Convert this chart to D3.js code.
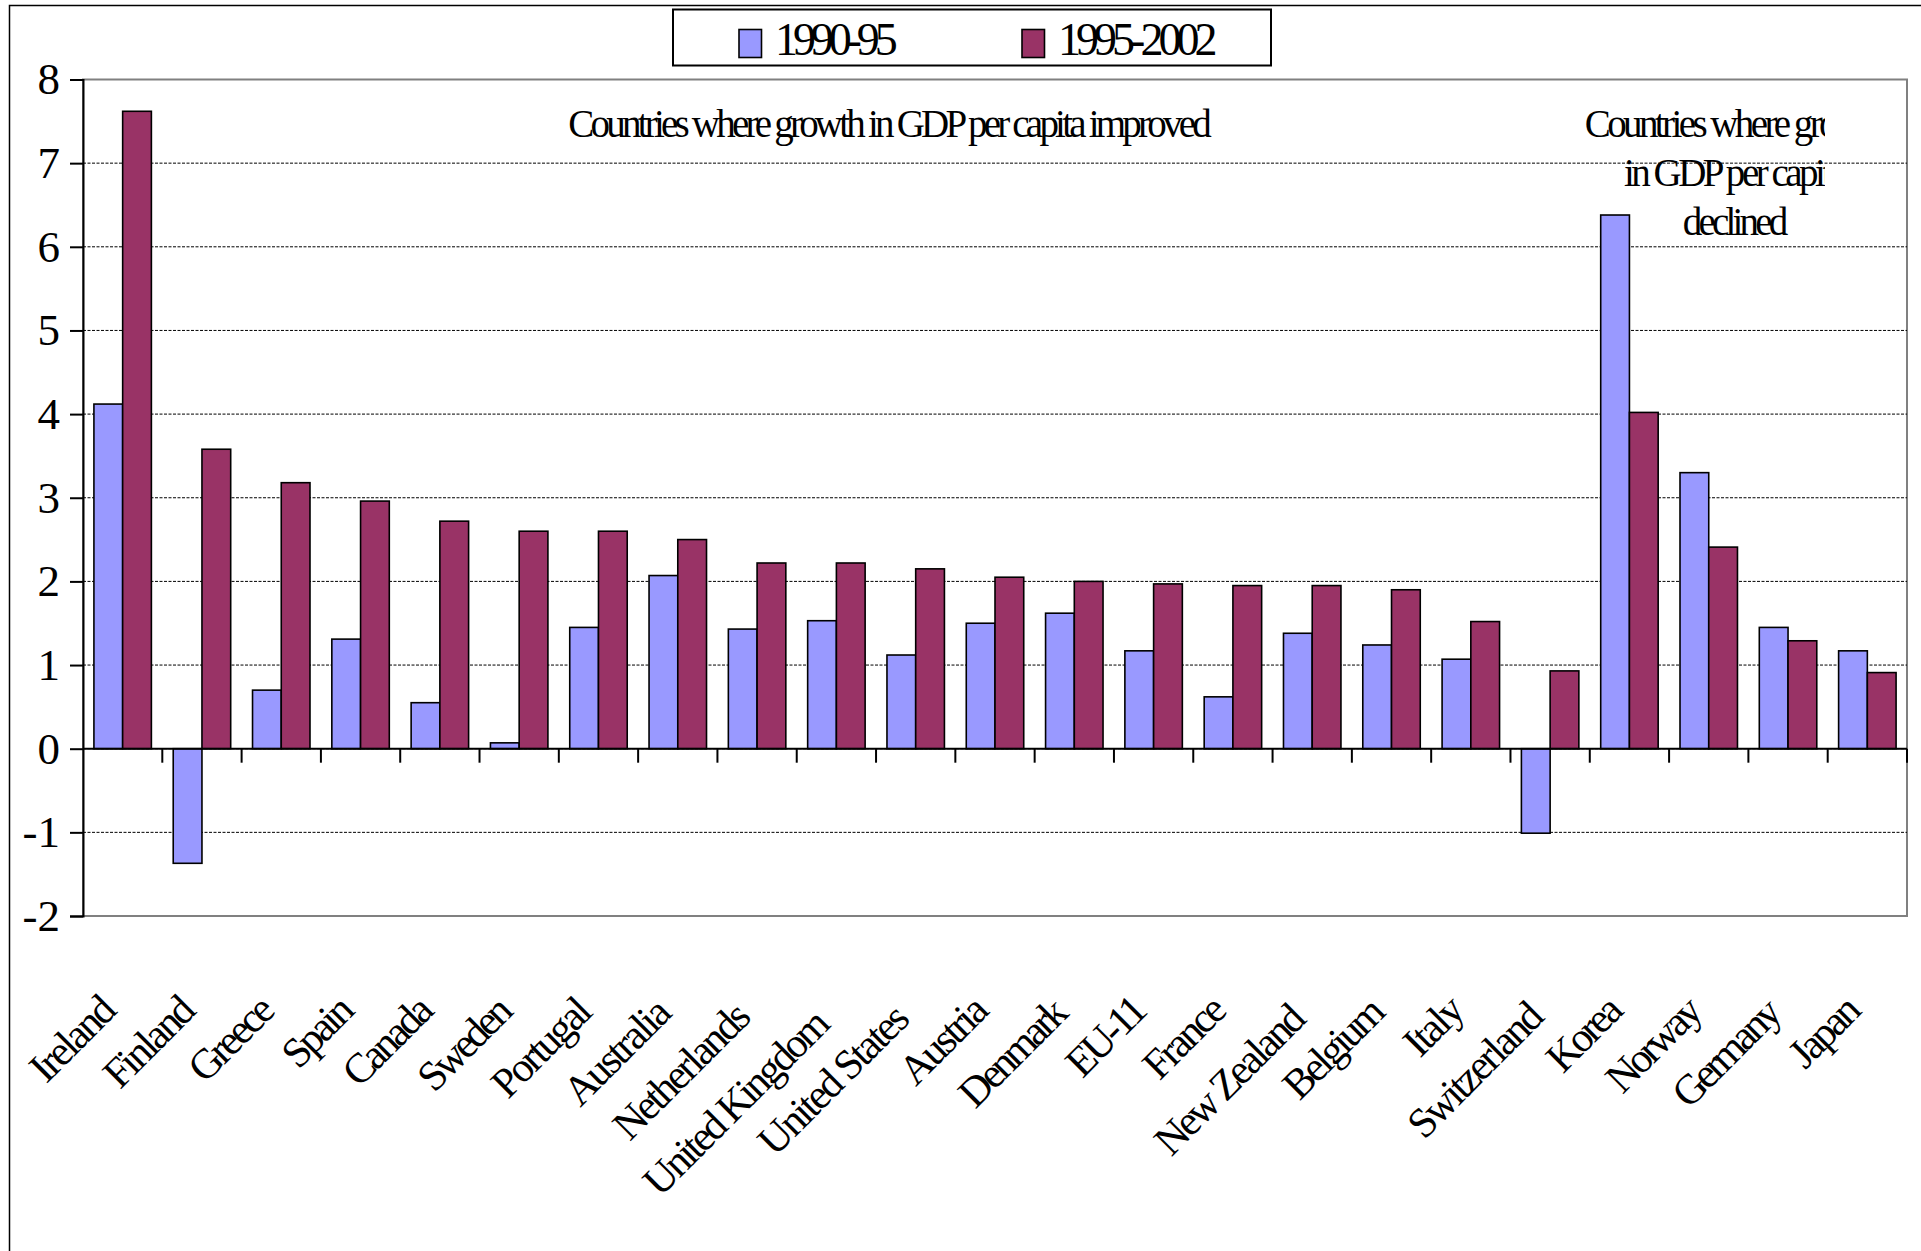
<!DOCTYPE html>
<html>
<head>
<meta charset="utf-8">
<script src="https://cdn.jsdelivr.net/npm/d3@7"></script>
<style>
  body { margin: 0; background: #fff; }
  svg { display: block; }
  text { font-family: "Liberation Serif", "Times New Roman", serif; fill: #000; }
</style>
</head>
<body>
<svg id="chart" width="1921" height="1251"></svg>
<script>
// Average annual growth in GDP per capita, by country
const categories = [
  "Ireland", "Finland", "Greece", "Spain", "Canada", "Sweden", "Portugal",
  "Australia", "Netherlands", "United Kingdom", "United States", "Austria",
  "Denmark", "EU-11", "France", "New Zealand", "Belgium", "Italy",
  "Switzerland", "Korea", "Norway", "Germany", "Japan"
];
const seriesNames = ["1990-95", "1995-2002"];
const growth1990_95 = [
  4.12, -1.37, 0.70, 1.31, 0.55, 0.07, 1.45,
  2.07, 1.43, 1.53, 1.12, 1.50,
  1.62, 1.17, 0.62, 1.38, 1.24, 1.07,
  -1.01, 6.38, 3.30, 1.45, 1.17
];
const growth1995_2002 = [
  7.62, 3.58, 3.18, 2.96, 2.72, 2.60, 2.60,
  2.50, 2.22, 2.22, 2.15, 2.05,
  2.00, 1.97, 1.95, 1.95, 1.90, 1.52,
  0.93, 4.02, 2.41, 1.29, 0.91
];
const yTicks = [-2, -1, 0, 1, 2, 3, 4, 5, 6, 7, 8];
const noteImproved = "Countries where growth in GDP per capita improved";
const noteDeclined = ["Countries where growth", "in GDP per capita", "declined"];

const seriesValues = [growth1990_95, growth1995_2002];
const rows = categories.map((c, i) => ({
  country: c,
  values: seriesNames.map((s, j) => ({ series: s, value: seriesValues[j][i] }))
}));

const svg = d3.select("#chart");
const plot = { left: 83, right: 1907, top: 79.5, bottom: 916 };

const y = d3.scaleLinear().domain([-2, 8]).range([plot.bottom, plot.top]);
const x0 = d3.scaleBand().domain(categories).range([plot.left, plot.right]).padding(0);
const x1 = d3.scaleBand().domain(seriesNames).range([0, x0.bandwidth()])
  .paddingInner(0).paddingOuter(0.38);
const color = d3.scaleOrdinal().domain(seriesNames).range(["#9999FF", "#993366"]);

// Squeeze text horizontally by a factor, keeping glyph height
function condense(sel, k) {
  sel.each(function () {
    const w = this.getComputedTextLength();
    d3.select(this).attr("textLength", w * k).attr("lengthAdjust", "spacing");
  });
}

// Outer chart frame
svg.append("path")
  .attr("d", "M9.5,1251V5.5H1921")
  .attr("fill", "none").attr("stroke", "#000").attr("stroke-width", 1.5);

// Plot area
svg.append("rect")
  .attr("x", plot.left).attr("y", plot.top)
  .attr("width", plot.right - plot.left).attr("height", plot.bottom - plot.top)
  .attr("fill", "#fff").attr("stroke", "#808080").attr("stroke-width", 2);

// Horizontal gridlines
svg.append("g")
  .selectAll("line")
  .data(yTicks.filter(t => t > -2 && t < 8))
  .join("line")
  .attr("x1", plot.left).attr("x2", plot.right)
  .attr("y1", d => y(d)).attr("y2", d => y(d))
  .attr("stroke", "#000").attr("stroke-width", 1)
  .attr("stroke-dasharray", "3,1.5");

// Bars
const groups = svg.append("g")
  .selectAll("g")
  .data(rows)
  .join("g")
  .attr("transform", d => `translate(${x0(d.country)},0)`);

groups.selectAll("rect")
  .data(d => d.values)
  .join("rect")
  .attr("x", d => x1(d.series))
  .attr("width", x1.bandwidth())
  .attr("y", d => y(Math.max(0, d.value)))
  .attr("height", d => Math.abs(y(d.value) - y(0)))
  .attr("fill", d => color(d.series))
  .attr("stroke", "#000").attr("stroke-width", 1.6);

// Value axis
const yAxis = svg.append("g")
  .attr("transform", `translate(${plot.left},0)`)
  .call(d3.axisLeft(y).tickValues(yTicks).tickSize(13).tickSizeOuter(13).tickPadding(10)
    .tickFormat(d3.format("d")));
yAxis.select(".domain").attr("stroke", "#000").attr("stroke-width", 2);
yAxis.selectAll(".tick line").attr("stroke", "#000").attr("stroke-width", 2);
yAxis.selectAll(".tick text")
  .text(d => (d < 0 ? "-" + Math.abs(d) : String(d)))
  .attr("font-size", 45)
  .attr("font-family", "Liberation Serif, Times New Roman, serif");

// Category axis along zero, with ticks between groups
const boundaries = categories.map(c => x0(c)).concat([x0(categories[categories.length - 1]) + x0.bandwidth()]);
const catAxis = svg.append("g");
catAxis.append("line")
  .attr("x1", plot.left).attr("x2", plot.right)
  .attr("y1", y(0)).attr("y2", y(0))
  .attr("stroke", "#000").attr("stroke-width", 2);
catAxis.selectAll("line.tick")
  .data(boundaries.slice(1))
  .join("line")
  .attr("class", "tick")
  .attr("x1", d => d).attr("x2", d => d)
  .attr("y1", y(0)).attr("y2", y(0) + 14)
  .attr("stroke", "#000").attr("stroke-width", 2);

// Category labels, slanted; longer labels sit a little lower
const labels = svg.append("g")
  .selectAll("text")
  .data(categories)
  .join("text")
  .attr("text-anchor", "end")
  .attr("font-size", 42)
  .text(d => d)
  .call(condense, 0.86);
labels.attr("transform", function (d) {
  const len = +this.getAttribute("textLength");
  const drop = 4 + 0.1 * Math.max(0, len - 108);
  return `translate(${x0(d) + x0.bandwidth() / 2 - 4},${1008 + drop}) rotate(-45)`;
});

// Notes inside the plot
svg.append("text")
  .attr("x", 890).attr("y", 137)
  .attr("text-anchor", "middle")
  .attr("font-size", 39)
  .text(noteImproved)
  .call(condense, 0.78);

svg.append("clipPath").attr("id", "noteClip")
  .append("rect").attr("x", 1500).attr("y", 90).attr("width", 325).attr("height", 170);

svg.append("g")
  .attr("clip-path", "url(#noteClip)")
  .selectAll("text")
  .data(noteDeclined)
  .join("text")
  .attr("x", 1735.5)
  .attr("y", (d, i) => 137 + i * 49)
  .attr("text-anchor", "middle")
  .attr("font-size", 39)
  .text(d => d)
  .call(condense, 0.8);

// Legend
const legend = svg.append("g");
legend.append("rect")
  .attr("x", 673).attr("y", 9.5).attr("width", 598).attr("height", 56)
  .attr("fill", "#fff").attr("stroke", "#000").attr("stroke-width", 2);
const legendX = [739, 1022];
const items = legend.selectAll("g.item")
  .data(seriesNames)
  .join("g")
  .attr("class", "item")
  .attr("transform", (d, i) => `translate(${legendX[i]},0)`);
items.append("rect")
  .attr("x", 0).attr("y", 29.5).attr("width", 22.5).attr("height", 28)
  .attr("fill", d => color(d)).attr("stroke", "#000").attr("stroke-width", 1.6);
items.append("text")
  .attr("x", 36).attr("y", 55)
  .attr("font-size", 46)
  .text(d => d)
  .call(condense, 0.8);
</script>
</body>
</html>
